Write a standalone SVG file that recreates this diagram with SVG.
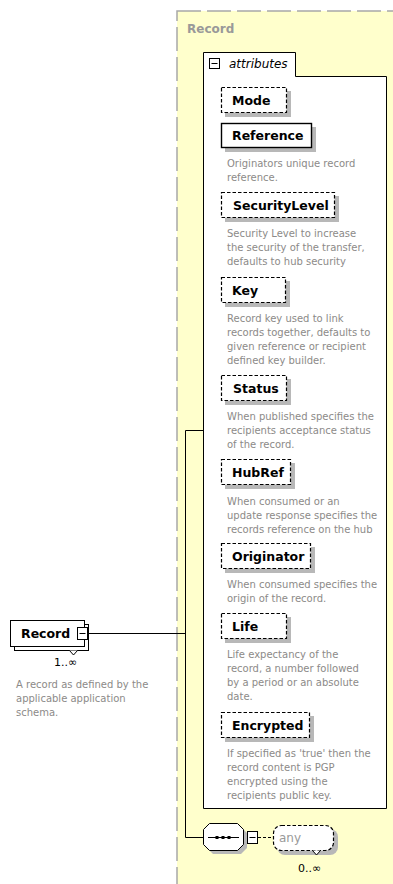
<svg xmlns="http://www.w3.org/2000/svg" width="393" height="884" viewBox="0 0 393 884">
<defs>
<style>
.lbl{font-family:"DejaVu Sans",Verdana,sans-serif;font-weight:bold;font-size:12.5px;fill:#000}
.desc{font-family:"DejaVu Sans",Verdana,sans-serif;font-size:10px;fill:#8c8a88}
.occ{font-family:"DejaVu Sans",Verdana,sans-serif;font-size:11px;fill:#000}
.shadow{fill:#b8b8b8}
.opt{fill:#fff;stroke:#000;stroke-width:1.2;stroke-dasharray:3.5,2}
.req{fill:#fff;stroke:#000;stroke-width:1.4}
.conn{fill:none;stroke:#000;stroke-width:1}
</style>
</defs>
<rect width="393" height="884" fill="#fff"/>
<g id="record-group">
<rect x="177" y="11" width="220" height="880" fill="#ffffcc" stroke="#a8a8a8" stroke-width="1.5" stroke-dasharray="24,6"/>
<text x="187" y="33" font-family="DejaVu Sans,Verdana,sans-serif" font-weight="bold" font-size="12px" fill="#999">Record</text>
</g>
<g id="attributes">
<path d="M203.5,808.5 V52.5 H295.5 V76.5 H386.5 V808.5 Z" fill="#fff" stroke="#000" stroke-width="1"/>
<rect x="209.5" y="58.5" width="10" height="10" fill="#fff" stroke="#000"/>
<line x1="211.5" y1="63.5" x2="217.5" y2="63.5" stroke="#000"/>
<text x="229" y="68" font-family="DejaVu Sans,Verdana,sans-serif" font-style="italic" font-size="12px" fill="#000">attributes</text>
</g>
<g id="connectors">
<path class="conn" d="M87,633.5 H185.5"/>
<path class="conn" d="M185.5,430.5 V837.5 H203"/>
<path class="conn" d="M185.5,430.5 H203"/>
<path class="conn" d="M243,837.5 H247"/>
<path class="conn" d="M258,837.5 H273" stroke-dasharray="3,2"/>
</g>
<g id="node-Record">
<rect x="14.5" y="624.5" width="74" height="26" fill="#fff" stroke="#000"/>
<rect x="10.5" y="620.5" width="74" height="26" fill="#fff" stroke="#000"/>
<text class="lbl" x="21" y="638">Record</text>
<rect x="77.5" y="627.5" width="10" height="12" fill="#fff" stroke="#000"/>
<line x1="79.5" y1="633.5" x2="85.5" y2="633.5" stroke="#000"/>
<path d="M69.5,650.5 L73.5,655 L77.5,650.5" fill="#fff" stroke="#000"/>
<text class="occ" x="54" y="666">1..∞</text>
<text class="desc" x="16" y="688">A record as defined by the</text>
<text class="desc" x="16" y="702">applicable application</text>
<text class="desc" x="16" y="716">schema.</text>
</g>
<g id="node-Mode">
<rect class="shadow" x="225" y="91" width="66" height="26"/>
<rect class="opt" x="221.5" y="87.5" width="65" height="25"/>
<text class="lbl" x="232" y="105">Mode</text>
</g>
<g id="node-Reference">
<rect class="shadow" x="225" y="127" width="91" height="25"/>
<rect class="req" x="221.5" y="123.5" width="90" height="24"/>
<text class="lbl" x="232" y="140">Reference</text>
<text class="desc" x="227" y="167">Originators unique record</text>
<text class="desc" x="227" y="181">reference.</text>
</g>
<g id="node-SecurityLevel">
<rect class="shadow" x="225" y="196" width="114" height="26"/>
<rect class="opt" x="221.5" y="192.5" width="113" height="25"/>
<text class="lbl" x="233" y="210">SecurityLevel</text>
<text class="desc" x="227" y="237">Security Level to increase</text>
<text class="desc" x="227" y="251">the security of the transfer,</text>
<text class="desc" x="227" y="265">defaults to hub security</text>
</g>
<g id="node-Key">
<rect class="shadow" x="225" y="281" width="65" height="26"/>
<rect class="opt" x="221.5" y="277.5" width="64" height="25"/>
<text class="lbl" x="232" y="295">Key</text>
<text class="desc" x="227" y="322">Record key used to link</text>
<text class="desc" x="227" y="336">records together, defaults to</text>
<text class="desc" x="227" y="350">given reference or recipient</text>
<text class="desc" x="227" y="364">defined key builder.</text>
</g>
<g id="node-Status">
<rect class="shadow" x="225" y="379" width="66" height="26"/>
<rect class="opt" x="221.5" y="375.5" width="65" height="25"/>
<text class="lbl" x="233" y="393">Status</text>
<text class="desc" x="227" y="420">When published specifies the</text>
<text class="desc" x="227" y="434">recipients acceptance status</text>
<text class="desc" x="227" y="448">of the record.</text>
</g>
<g id="node-HubRef">
<rect class="shadow" x="225" y="463" width="70" height="26"/>
<rect class="opt" x="221.5" y="459.5" width="69" height="25"/>
<text class="lbl" x="232" y="477">HubRef</text>
<text class="desc" x="227" y="505">When consumed or an</text>
<text class="desc" x="227" y="519">update response specifies the</text>
<text class="desc" x="227" y="533">records reference on the hub</text>
</g>
<g id="node-Originator">
<rect class="shadow" x="225" y="547" width="90" height="26"/>
<rect class="opt" x="221.5" y="543.5" width="89" height="25"/>
<text class="lbl" x="232" y="561">Originator</text>
<text class="desc" x="227" y="588">When consumed specifies the</text>
<text class="desc" x="227" y="602">origin of the record.</text>
</g>
<g id="node-Life">
<rect class="shadow" x="225" y="617" width="66" height="26"/>
<rect class="opt" x="221.5" y="613.5" width="65" height="25"/>
<text class="lbl" x="232" y="631">Life</text>
<text class="desc" x="227" y="658">Life expectancy of the</text>
<text class="desc" x="227" y="672">record, a number followed</text>
<text class="desc" x="227" y="686">by a period or an absolute</text>
<text class="desc" x="227" y="700">date.</text>
</g>
<g id="node-Encrypted">
<rect class="shadow" x="225" y="716" width="89" height="26"/>
<rect class="opt" x="221.5" y="712.5" width="88" height="25"/>
<text class="lbl" x="232" y="730">Encrypted</text>
<text class="desc" x="227" y="757">If specified as 'true' then the</text>
<text class="desc" x="227" y="771">record content is PGP</text>
<text class="desc" x="227" y="785">encrypted using the</text>
<text class="desc" x="227" y="799">recipients public key.</text>
</g>
<g id="node-sequence">
<path d="M213,827 H241 L247,833 V848 L241,854 H213 L207,848 V833 Z" class="shadow"/>
<path d="M209.5,823.5 H237.5 L243.5,829.5 V844.5 L237.5,850.5 H209.5 L203.5,844.5 V829.5 Z" fill="#fff" stroke="#000"/>
<line x1="208" y1="837.5" x2="239" y2="837.5" stroke="#000"/>
<rect x="215.5" y="836" width="3" height="3" fill="#000"/>
<rect x="221.5" y="836" width="3" height="3" fill="#000"/>
<rect x="227.5" y="836" width="3" height="3" fill="#000"/>
<rect x="247.5" y="831.5" width="10" height="12" fill="#fff" stroke="#000"/>
<line x1="249.5" y1="837.5" x2="255.5" y2="837.5" stroke="#000"/>
</g>
<g id="node-any">
<rect class="shadow" x="277" y="829" width="61" height="26" rx="8"/>
<rect x="273.5" y="825.5" width="60" height="25" rx="8" fill="#fff" stroke="#000" stroke-width="1.2" stroke-dasharray="3.5,2"/>
<text x="279" y="842" font-family="DejaVu Sans,Verdana,sans-serif" font-size="12px" fill="#999">any</text>
<path d="M312.5,850.5 L316.5,855 L320.5,850.5" fill="#fff" stroke="#000"/>
<text class="occ" x="298" y="872">0..∞</text>
</g>
</svg>
